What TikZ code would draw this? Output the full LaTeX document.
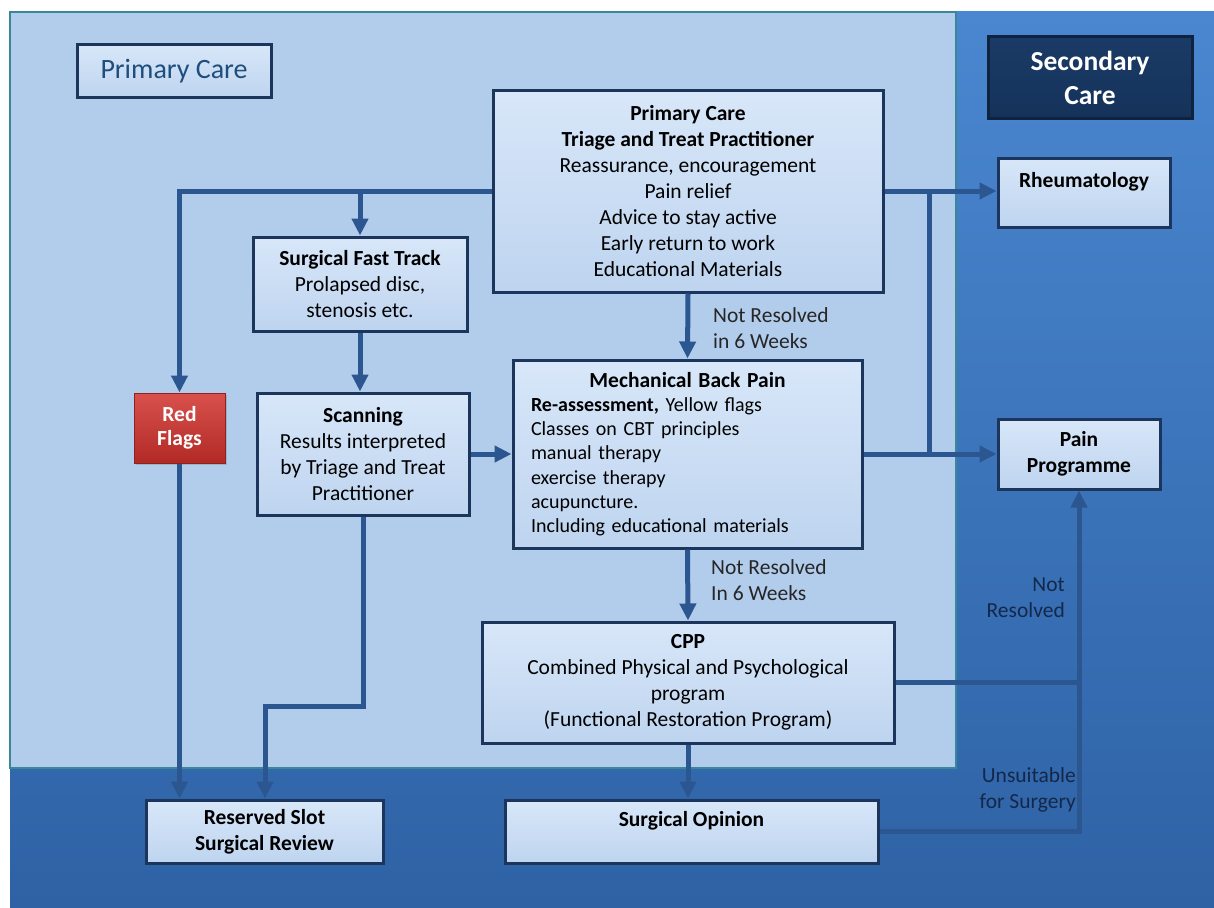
\documentclass[tikz,border=0pt]{standalone}
\usepackage{fontspec}
\setmainfont{Carlito}
\usetikzlibrary{arrows.meta,shadows}
\definecolor{bgtop}{HTML}{4A87D0}
\definecolor{bgbot}{HTML}{2E62A5}
\definecolor{panel}{HTML}{B2CCEB}
\definecolor{panelline}{HTML}{3A8798}
\definecolor{boxtop}{HTML}{D8E7F9}
\definecolor{boxbot}{HTML}{BED4EF}
\definecolor{boxline}{HTML}{1B355C}
\definecolor{flowc}{HTML}{2B5690}
\definecolor{redtop}{HTML}{D8514C}
\definecolor{redbot}{HTML}{B22A25}
\definecolor{navytop}{HTML}{1A3B66}
\definecolor{navybot}{HTML}{15325A}
\definecolor{labeltxt}{HTML}{1F4E7D}
\definecolor{darktxt}{HTML}{14284A}

\begin{document}
\begin{tikzpicture}[x=1pt,y=-1pt,
  box/.style={draw=boxline,line width=3pt,top color=boxtop,bottom color=boxbot,
    align=center,inner sep=2pt,font=\fontsize{21.5}{26}\selectfont,
    drop shadow={shadow xshift=2pt,shadow yshift=-2pt,opacity=0.35}},
  flow/.style={draw=flowc,line width=5pt},
  arrow/.style={flow,-{Triangle[length=17pt,width=16pt]}},
  note/.style={font=\fontsize{21.5}{26}\selectfont,inner sep=0pt}]
\useasboundingbox (0,0) rectangle (1214,907);
\fill[top color=bgtop,bottom color=bgbot] (10,12) rectangle (1214,907);
\fill[panel,draw=panelline,line width=2pt] (10,12) rectangle (956,768);

\node[box,minimum width=194,minimum height=52,font=\fontsize{28}{30}\selectfont,text=labeltxt] (pclabel) at (174,71) {Primary Care};
\node[box,draw=navybot!70!black,top color=navytop,bottom color=navybot,minimum width=204,minimum height=81,
  text=white,font=\fontsize{27.5}{34}\selectfont\bfseries] (sclabel) at (1090,77.5) {Secondary\\Care};

\node[box,minimum width=390,minimum height=202] (triage) at (688,191)
  {\textbf{Primary Care}\\\textbf{Triage and Treat Practitioner}\\Reassurance, encouragement\\Pain relief\\
   Advice to stay active\\Early return to work\\Educational Materials};
\node[box,minimum width=172,minimum height=69] (rheum) at (1084,192.5) {\textbf{Rheumatology}\\~};
\node[box,minimum width=214,minimum height=94] (fast) at (360,284)
  {\textbf{Surgical Fast Track}\\Prolapsed disc,\\stenosis etc.};
\node[box,draw=redbot!80!black,line width=1pt,top color=redtop,bottom color=redbot,minimum width=91,minimum height=70,
  text=white,font=\fontsize{21.5}{24}\selectfont\bfseries] (redflags) at (179.5,428) {Red\\Flags};
\node[box,minimum width=212,minimum height=122] (scan) at (363,454)
  {\textbf{Scanning}\\Results interpreted\\by Triage and Treat\\Practitioner};
\node[box,minimum width=349,minimum height=188,text width=313pt,align=left,
  font=\fontsize{20}{24.2}\selectfont] (mech) at (687.5,454)
  {\makebox[\linewidth]{\fontsize{21.5}{24.2}\selectfont\bfseries Mechanical Back Pain}\\\textbf{Re-assessment,} Yellow flags\\
   Classes on CBT principles\\manual therapy\\exercise therapy\\acupuncture.\\Including educational materials};
\node[box,minimum width=162,minimum height=70] (pain) at (1079,454) {\textbf{Pain}\\\textbf{Programme}};
\node[box,minimum width=412,minimum height=121] (cpp) at (688,682.5)
  {\textbf{CPP}\\Combined Physical and Psychological\\program\\(Functional Restoration Program)};
\node[box,minimum width=237,minimum height=63] (reserved) at (264.5,831.5)
  {\textbf{Reserved Slot}\\\textbf{Surgical Review}};
\node[box,minimum width=373,minimum height=63] (opinion) at (691.5,831.5) {\textbf{Surgical Opinion}\\~};

\node[note,anchor=west,align=left,text=black!85] (nr1) at (713,328) {Not Resolved\\in 6 Weeks};
\node[note,anchor=west,align=left,text=black!85] (nr2) at (711,580) {Not Resolved\\In 6 Weeks};
\node[note,anchor=east,align=right,text=darktxt] (nr3) at (1065,598) {Not\\Resolved};
\node[note,anchor=east,align=right,text=darktxt] (unsuit) at (1076,790) {Unsuitable\\for Surgery};

\coordinate (jr) at (929,191);
\coordinate (bend) at (265,706);
\draw[arrow] (triage.west) -| (redflags.north);
\draw[arrow] (triage.west -| fast.north) -- (fast.north);
\draw[arrow] (fast.south) -- (fast.south |- scan.north);
\draw[arrow] (scan.east) -- (mech.west);
\draw[arrow] (triage.south) -- (mech.north);
\draw[arrow] (triage.east) -- (triage.east -| rheum.west);
\draw[flow] (jr) -- (jr |- mech.east);
\draw[arrow] (mech.east) -- (pain.west);
\draw[arrow] (mech.south) -- (cpp.north);
\draw[arrow] (cpp.east) -| (pain.south);
\draw[flow] (opinion.east) -| (cpp.east -| pain.south);
\draw[arrow] (cpp.south) -- (cpp.south |- opinion.north);
\draw[arrow] (redflags.south) -- (redflags.south |- reserved.north);
\draw[arrow] (scan.south) |- (bend) -- (bend |- reserved.north);
\end{tikzpicture}
\end{document}
